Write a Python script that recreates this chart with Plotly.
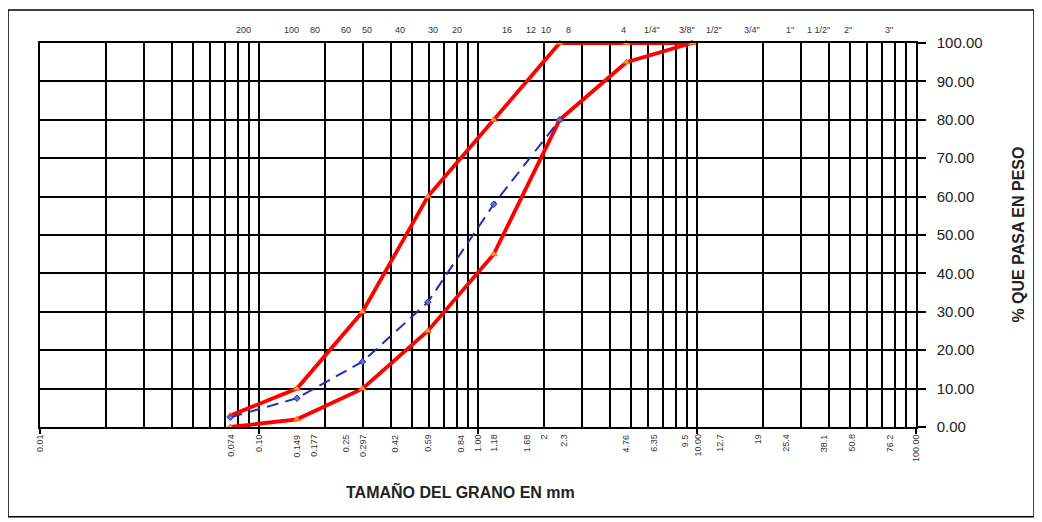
import math
import plotly.graph_objects as go

# ---------------- data ----------------
sieve_mm = [0.074, 0.149, 0.297, 0.59, 1.18, 2.36, 4.76, 9.5]
upper_limit = [3, 10, 30, 60, 80, 100, 100, 100]
lower_limit = [0, 2, 10, 25, 45, 80, 95, 100]

sample_mm = [0.074, 0.149, 0.297, 0.59, 1.18, 2.36]
sample_pass = [2.5, 7.5, 17, 32.5, 58, 80]

bottom_labels = ["0.01", "0.074", "0.10", "0.149", "0.177", "0.25", "0.297", "0.42", "0.59",
                 "0.84", "1.00", "1.18", "1.68", "2", "2.3", "4.76", "6.35", "9.5", "10.00",
                 "12.7", "19", "25.4", "38.1", "50.8", "76.2", "100.00"]
bottom_mm = [0.01, 0.074, 0.10, 0.149, 0.177, 0.25, 0.297, 0.42, 0.59,
             0.84, 1.00, 1.18, 1.68, 2.0, 2.45, 4.76, 6.35, 8.8, 10.0,
             12.7, 19.05, 25.4, 38.1, 50.8, 76.2, 100.0]

top_labels = ["200", "100", "80", "60", "50", "40", "30", "20", "16", "12", "10", "8",
              "4", "1/4\"", "3/8\"", "1/2\"", "3/4\"", "1\"", "1 1/2\"", "2\"", "3\""]
top_mm = [0.085, 0.14, 0.18, 0.25, 0.31, 0.44, 0.62, 0.8, 1.35, 1.75, 2.05, 2.6,
          4.6, 6.2, 9.0, 12.0, 17.8, 26.5, 36.0, 49.0, 75.0]

y_ticks = [0, 10, 20, 30, 40, 50, 60, 70, 80, 90, 100]

FONT = "Liberation Sans, Arial, sans-serif"

fig = go.Figure()

red_line = dict(color="#FF0000", width=3.8)
red_marker = dict(symbol="triangle-up", size=6, color="#FFA040",
                  line=dict(color="#FF5A00", width=1))

fig.add_trace(go.Scatter(x=sieve_mm, y=upper_limit, mode="lines+markers",
                         line=red_line, marker=red_marker, cliponaxis=False,
                         showlegend=False))
fig.add_trace(go.Scatter(x=sieve_mm, y=lower_limit, mode="lines+markers",
                         line=red_line, marker=red_marker, cliponaxis=False,
                         showlegend=False))
fig.add_trace(go.Scatter(x=sample_mm, y=sample_pass, mode="lines+markers",
                         line=dict(color="#1F2FB0", width=2, dash="12px,7px"),
                         marker=dict(symbol="diamond", size=5, color="#6070D0",
                                     line=dict(color="#1F2FB0", width=1)),
                         cliponaxis=False, showlegend=False))

minor_vals = [k * 10 ** d for d in range(-2, 2) for k in range(2, 10)]

fig.update_xaxes(type="log", range=[-2, 2],
                 tickvals=[0.01, 0.1, 1, 10, 100], ticks="outside", ticklen=5,
                 tickcolor="black", tickwidth=1.5, showticklabels=False,
                 showgrid=True, gridcolor="black", gridwidth=1.5,
                 minor=dict(tickvals=minor_vals, showgrid=True, gridcolor="black",
                            gridwidth=1.5, ticks=""),
                 showline=True, linecolor="black", linewidth=1.5, mirror=True,
                 zeroline=False)

fig.update_yaxes(range=[0, 100], tickvals=y_ticks, tickformat=".2f", side="right",
                 ticks="outside", ticklen=8, tickcolor="black", tickwidth=1.5,
                 ticklabelstandoff=8,
                 tickfont=dict(family=FONT, size=15, color="#222222"),
                 showgrid=True, gridcolor="black", gridwidth=1.5,
                 showline=True, linecolor="black", linewidth=1.5, mirror=True,
                 zeroline=False)

annotations = []
for lab, v in zip(bottom_labels, bottom_mm):
    annotations.append(dict(x=math.log10(v), y=0, xref="x", yref="paper",
                            text=lab, textangle=-90, showarrow=False,
                            xanchor="center", yanchor="top", yshift=-5,
                            font=dict(family=FONT, size=9, color="#333333")))
for lab, v in zip(top_labels, top_mm):
    annotations.append(dict(x=math.log10(v), y=1, xref="x", yref="paper",
                            text=lab, showarrow=False,
                            xanchor="center", yanchor="bottom", yshift=6,
                            font=dict(family=FONT, size=9, color="#333333")))

annotations.append(dict(x=0.48, y=-0.169, xref="paper", yref="paper",
                        text="<b>TAMAÑO DEL GRANO EN mm</b>", showarrow=False,
                        xanchor="center", yanchor="middle",
                        font=dict(family=FONT, size=16, color="#222222")))
annotations.append(dict(x=1.116, y=0.5, xref="paper", yref="paper",
                        text="<b>% QUE PASA EN PESO</b>", textangle=-90, showarrow=False,
                        xanchor="center", yanchor="middle",
                        font=dict(family=FONT, size=16, color="#222222")))

fig.update_layout(
    width=1042, height=522,
    margin=dict(l=32, r=134, t=35, b=103),
    paper_bgcolor="white", plot_bgcolor="white",
    annotations=annotations,
    shapes=[dict(type="rect", xref="paper", yref="paper",
                 x0=-0.0365, x1=1.1347, y0=-0.234, y1=1.086,
                 line=dict(color="black", width=1.5), layer="above")],
)

fig.write_html("out.html")
